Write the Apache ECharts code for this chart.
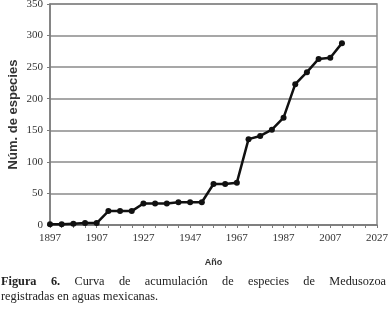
<!DOCTYPE html>
<html><head><meta charset="utf-8">
<script src="https://cdn.jsdelivr.net/npm/echarts@6/dist/echarts.min.js"></script>
<style>
html,body{margin:0;padding:0;background:#fff;}
#c{position:absolute;left:0;top:0;width:389px;height:317px;}
.cap{position:absolute;left:1px;width:385px;font-family:"Liberation Serif","Times New Roman",serif;font-size:12.3px;color:#222;white-space:nowrap;}
#l1{top:274px;text-align:justify;text-align-last:justify;}
#l2{top:289px;}
</style></head>
<body>
<div id="c"></div>
<div class="cap" id="l1"><b>Figura 6.</b> Curva de acumulación de especies de Medusozoa</div>
<div class="cap" id="l2">registradas en aguas mexicanas.</div>
<script>
// Data (x positions every 5 years on the drawn scale)
const years = [1887,1892,1897,1902,1907,1912,1917,1922,1927,1932,1937,1942,1947,1952,1957,1962,1967,1972,1977,1982,1987,1992,1997,2002,2007,2012];
const species = [1,1,2,3,3,22,22,22,34,34,34,36,36,36,65,65,67,136,141,151,170,223,242,263,265,288];
const xTickLabels = ['1897','1907','1927','1947','1967','1987','2007','2027'];
const yTicks = [0,50,100,150,200,250,300,350];

const chart = echarts.init(document.getElementById('c'));
chart.setOption({
  animation:false,
  grid:{left:50,right:12,top:4,bottom:92,containLabel:false,outerBoundsMode:'none',show:true,borderColor:'#8a8a8a',borderWidth:1.5},
  xAxis:{
    type:'value',min:1887,max:2027,interval:20,
    name:'Año',nameLocation:'middle',nameGap:33,nameMoveOverlap:false,
    nameTextStyle:{fontFamily:'Liberation Sans, Arial, sans-serif',fontWeight:'bold',fontSize:9,color:'#333'},
    axisLine:{lineStyle:{color:'#7a7a7a',width:1.5}},
    axisTick:{show:true,inside:false,length:3,lineStyle:{color:'#7a7a7a'}},
    minorTick:{show:true,splitNumber:4,length:3,lineStyle:{color:'#7a7a7a'}},
    splitLine:{show:false},
    axisLabel:{fontFamily:'Liberation Serif, Times New Roman, serif',fontSize:11,color:'#333',margin:8,
      formatter:(v)=>xTickLabels[Math.round((v-1887)/20)]}
  },
  yAxis:{
    type:'value',min:yTicks[0],max:yTicks[yTicks.length-1],interval:50,
    name:'Núm. de especies',nameLocation:'middle',nameGap:30,nameMoveOverlap:false,
    nameTextStyle:{fontFamily:'Liberation Sans, Arial, sans-serif',fontWeight:'bold',fontSize:13,color:'#333'},
    axisLine:{show:true,lineStyle:{color:'#7a7a7a',width:1.5}},
    axisTick:{show:true,length:3,lineStyle:{color:'#7a7a7a'}},
    splitLine:{lineStyle:{color:'#8a8a8a',width:1.5}},
    axisLabel:{fontFamily:'Liberation Serif, Times New Roman, serif',fontSize:11,color:'#333',margin:7}
  },
  series:[{
    type:'line',
    data:years.map((y,i)=>[y,species[i]]),
    symbol:'circle',symbolSize:6,
    lineStyle:{color:'#111',width:2.5},
    itemStyle:{color:'#111'}
  }]
});
</script>
</body></html>
